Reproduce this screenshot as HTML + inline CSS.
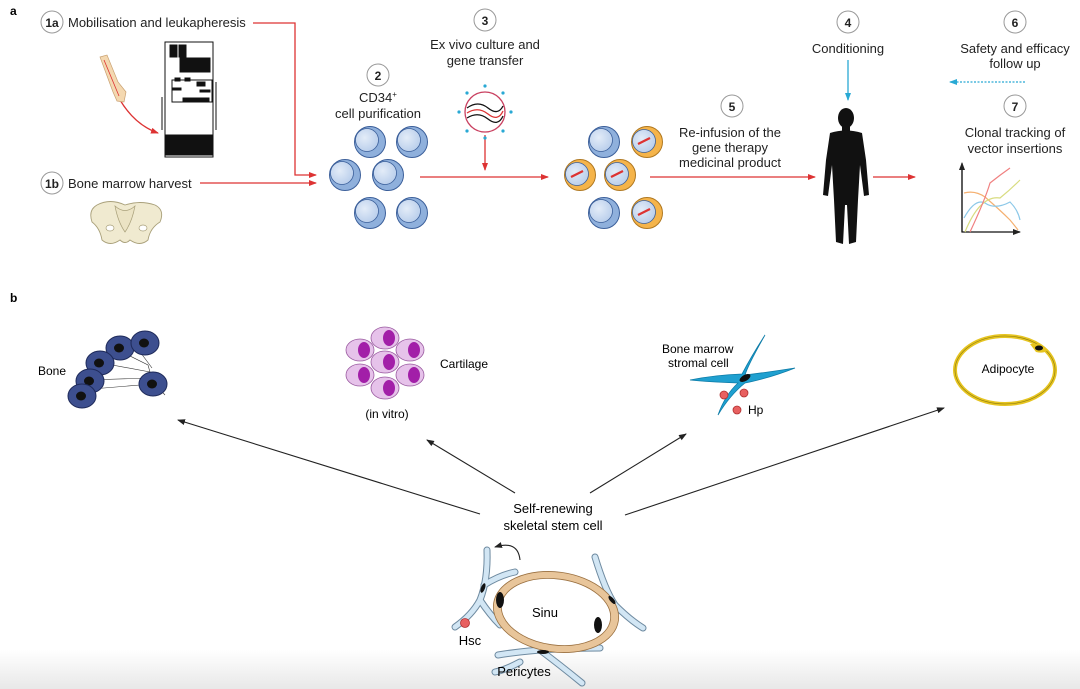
<!DOCTYPE html>
<html><head><meta charset="utf-8"><style>
html,body{margin:0;padding:0;background:#fff;}
svg{display:block;font-family:"Liberation Sans",Arial,sans-serif;}
</style></head><body>
<svg width="1080" height="689" viewBox="0 0 1080 689" xmlns="http://www.w3.org/2000/svg">
<defs>
<marker id="ar" markerWidth="8" markerHeight="8" refX="7" refY="4" orient="auto" markerUnits="userSpaceOnUse"><path d="M0,1 L8,4 L0,7 z" fill="#d33"/></marker>
<marker id="ab" markerWidth="8" markerHeight="8" refX="7" refY="4" orient="auto" markerUnits="userSpaceOnUse"><path d="M0,1 L8,4 L0,7 z" fill="#29a9d4"/></marker>
<marker id="ak" markerWidth="8" markerHeight="8" refX="7" refY="4" orient="auto" markerUnits="userSpaceOnUse"><path d="M0,1 L8,4 L0,7 z" fill="#222"/></marker>
<linearGradient id="bot" x1="0" y1="0" x2="0" y2="1"><stop offset="0" stop-color="#fff"/><stop offset="1" stop-color="#e8e8e8"/></linearGradient>
<radialGradient id="bc" cx="0.4" cy="0.4" r="0.7"><stop offset="0" stop-color="#e3ecf8"/><stop offset="1" stop-color="#b5cbea"/></radialGradient>
<g id="blue"><circle r="15.5" fill="#8fb0dc" stroke="#3b5f9a" stroke-width="1"/><circle cx="-3" cy="-2" r="11.5" fill="url(#bc)" stroke="#3b5f9a" stroke-width="0.8"/></g>
<g id="orng"><circle r="15.5" fill="#f5b44a" stroke="#b07820" stroke-width="1"/><circle cx="-3" cy="-1" r="11.5" fill="url(#bc)" stroke="#3b5f9a" stroke-width="0.8"/><line x1="-9" y1="2" x2="3" y2="-4" stroke="#d33" stroke-width="2.2"/></g>
<g id="pink"><ellipse rx="14" ry="11" fill="#e6c2ea" stroke="#9a5aa0" stroke-width="0.8"/><ellipse cx="4" cy="0" rx="6" ry="8" fill="#a21fa8"/></g>
<g id="bone"><ellipse rx="14" ry="12" fill="#3d4f8f" stroke="#1e2a5a"/><ellipse cx="-1" cy="0" rx="5" ry="4.5" fill="#111"/></g>
</defs>
<rect x="0" y="650" width="1080" height="39" fill="url(#bot)"/>

<text x="10" y="15" font-size="12" font-weight="bold">a</text>
<g font-size="13" fill="#222">
<circle cx="52" cy="22" r="11" fill="#fff" stroke="#999"/><text x="52" y="27" text-anchor="middle" font-weight="bold" font-size="12">1a</text>
<text x="68" y="27">Mobilisation and leukapheresis</text>
<circle cx="52" cy="183" r="11" fill="#fff" stroke="#999"/><text x="52" y="188" text-anchor="middle" font-weight="bold" font-size="12">1b</text>
<text x="68" y="188">Bone marrow harvest</text>
<circle cx="378" cy="75" r="11" fill="#fff" stroke="#999"/><text x="378" y="80" text-anchor="middle" font-weight="bold" font-size="12">2</text>
<text x="378" y="102" text-anchor="middle">CD34<tspan font-size="8" dy="-5">+</tspan></text>
<text x="378" y="118" text-anchor="middle">cell purification</text>
<circle cx="485" cy="20" r="11" fill="#fff" stroke="#999"/><text x="485" y="25" text-anchor="middle" font-weight="bold" font-size="12">3</text>
<text x="485" y="49" text-anchor="middle">Ex vivo culture and</text>
<text x="485" y="65" text-anchor="middle">gene transfer</text>
<circle cx="732" cy="106" r="11" fill="#fff" stroke="#999"/><text x="732" y="111" text-anchor="middle" font-weight="bold" font-size="12">5</text>
<text x="730" y="137" text-anchor="middle">Re-infusion of the</text>
<text x="730" y="152" text-anchor="middle">gene therapy</text>
<text x="730" y="167" text-anchor="middle">medicinal product</text>
<circle cx="848" cy="22" r="11" fill="#fff" stroke="#999"/><text x="848" y="27" text-anchor="middle" font-weight="bold" font-size="12">4</text>
<text x="848" y="53" text-anchor="middle">Conditioning</text>
<circle cx="1015" cy="22" r="11" fill="#fff" stroke="#999"/><text x="1015" y="27" text-anchor="middle" font-weight="bold" font-size="12">6</text>
<text x="1015" y="53" text-anchor="middle">Safety and efficacy</text>
<text x="1015" y="68" text-anchor="middle">follow up</text>
<circle cx="1015" cy="106" r="11" fill="#fff" stroke="#999"/><text x="1015" y="111" text-anchor="middle" font-weight="bold" font-size="12">7</text>
<text x="1015" y="137" text-anchor="middle">Clonal tracking of</text>
<text x="1015" y="153" text-anchor="middle">vector insertions</text>
</g>

<g stroke="#d33" stroke-width="1.3" fill="none">
<path d="M253,23 H295 V175 H316" marker-end="url(#ar)"/>
<path d="M200,183 H316" marker-end="url(#ar)"/>
<path d="M485,135 V170" marker-end="url(#ar)"/>
<path d="M420,177 H548" marker-end="url(#ar)"/>
<path d="M650,177 H815" marker-end="url(#ar)"/>
<path d="M873,177 H915" marker-end="url(#ar)"/>
<path d="M120,100 Q135,125 158,133" marker-end="url(#ar)"/>
</g>
<g stroke="#29a9d4" stroke-width="1.3" fill="none">
<path d="M848,60 V100" marker-end="url(#ab)"/>
<path d="M1025,82 H950" stroke-dasharray="2,1.5" marker-end="url(#ab)"/>
</g>

<path d="M100,57 L107,55 L118,82 L126,92 L124,102 L117,101 L113,92 Z" fill="#f4d8b0" stroke="#c9a070" stroke-width="0.7"/>
<line x1="104" y1="60" x2="119" y2="96" stroke="#d33" stroke-width="0.8"/>
<g stroke="#111" fill="#fff" stroke-width="1">
<rect x="165" y="42" width="48" height="115"/>
<rect x="170" y="45" width="7" height="12" fill="#111"/><rect x="179" y="45" width="7" height="12" fill="#111"/>
<rect x="180" y="58" width="30" height="14" fill="#111"/>
<rect x="172" y="80" width="40" height="22" fill="#fff"/>
<rect x="175" y="78" width="5" height="3" fill="#111"/><rect x="185" y="78" width="5" height="3" fill="#111"/><rect x="197" y="82" width="8" height="4" fill="#111"/>
<rect x="173" y="88" width="8" height="2" fill="#111"/><rect x="200" y="90" width="10" height="2" fill="#111"/>
<rect x="183" y="98" width="26" height="3" fill="#111"/>
<rect x="165" y="135" width="48" height="20" fill="#111"/>
<line x1="162" y1="97" x2="162" y2="130"/><line x1="216" y1="82" x2="216" y2="130"/>
</g>
<path d="M97,205 Q110,198 125,205 Q140,200 155,205 Q165,210 160,222 Q150,228 148,240 Q140,247 130,240 Q125,245 120,240 Q110,247 102,240 Q100,228 92,222 Q88,210 97,205 Z" fill="#f0ead0" stroke="#a9a07a" stroke-width="0.9"/>
<path d="M115,206 Q125,215 135,206 Q132,222 125,232 Q118,222 115,206 Z" fill="#ebe3c4" stroke="#a9a07a" stroke-width="0.7"/>
<ellipse cx="110" cy="228" rx="4" ry="3" fill="#fff" stroke="#a9a07a" stroke-width="0.7"/>
<ellipse cx="143" cy="228" rx="4" ry="3" fill="#fff" stroke="#a9a07a" stroke-width="0.7"/>

<use href="#blue" x="370" y="142"/><use href="#blue" x="412" y="142"/>
<use href="#blue" x="345" y="175"/><use href="#blue" x="388" y="175"/>
<use href="#blue" x="370" y="213"/><use href="#blue" x="412" y="213"/>
<use href="#blue" x="604" y="142"/><use href="#orng" x="647" y="142"/>
<use href="#orng" x="580" y="175"/><use href="#orng" x="620" y="175"/>
<use href="#blue" x="604" y="213"/><use href="#orng" x="647" y="213"/>

<circle cx="485" cy="112" r="20" fill="#fff" stroke="#c94060" stroke-width="1.3"/>
<path d="M467,108 Q478,100 488,108 T503,106" stroke="#111" stroke-width="1.3" fill="none"/>
<path d="M467,113 Q478,106 488,114 T503,111" stroke="#d33" stroke-width="1.3" fill="none"/>
<path d="M467,118 Q478,111 488,119 T503,116" stroke="#111" stroke-width="1.3" fill="none"/>
<g fill="#29a9d4"><circle cx="485" cy="86" r="1.6"/><circle cx="485" cy="138" r="1.6"/><circle cx="459" cy="112" r="1.6"/><circle cx="511" cy="112" r="1.6"/><circle cx="467" cy="93" r="1.6"/><circle cx="503" cy="93" r="1.6"/><circle cx="467" cy="131" r="1.6"/><circle cx="503" cy="131" r="1.6"/></g>

<g fill="#111">
<ellipse cx="846" cy="118" rx="8" ry="10"/>
<rect x="842" y="126" width="8" height="6"/>
<path d="M830,133 Q846,128 862,133 L866,160 L869,195 L864,196 L860,165 L858,200 L856,242 L849,244 L847,205 L845,205 L843,244 L836,242 L834,200 L832,165 L828,196 L823,195 L826,160 Z"/>
</g>

<g fill="none" stroke-width="1.2">
<path d="M962,166 V232 H1020" stroke="#111" marker-end="url(#ak)"/>
<line x1="962" y1="232" x2="962" y2="163" stroke="#111" marker-end="url(#ak)"/>
<path d="M964,193 Q975,190 985,197 Q1000,210 1010,220 Q1015,226 1018,230" stroke="#f5b070"/>
<path d="M964,218 Q975,198 985,203 Q995,210 1010,202 Q1018,210 1020,220" stroke="#8cc8e8"/>
<path d="M965,232 Q980,195 1000,198 Q1010,190 1020,180" stroke="#d8dc80"/>
<path d="M970,232 Q985,200 990,183 Q1000,175 1010,168" stroke="#f08080"/>
</g>

<text x="10" y="302" font-size="12" font-weight="bold">b</text>
<g stroke="#333" stroke-width="0.6" fill="none">
<path d="M96,362 L150,372 L160,392"/><path d="M88,380 L150,378 L165,395"/><path d="M118,350 L148,365 L155,390"/>
<path d="M135,345 L152,368"/><path d="M80,390 L140,385"/>
</g>
<use href="#bone" x="120" y="348"/><use href="#bone" x="145" y="343"/><use href="#bone" x="100" y="363"/>
<use href="#bone" x="90" y="381"/><use href="#bone" x="153" y="384"/><use href="#bone" x="82" y="396"/>
<text x="38" y="375" font-size="12">Bone</text>

<use href="#pink" x="385" y="338"/><use href="#pink" x="360" y="350"/><use href="#pink" x="410" y="350"/>
<use href="#pink" x="385" y="362"/><use href="#pink" x="360" y="375"/><use href="#pink" x="410" y="375"/>
<use href="#pink" x="385" y="388"/>
<text x="440" y="368" font-size="12">Cartilage</text>
<text x="387" y="418" font-size="12" text-anchor="middle">(in vitro)</text>

<text x="662" y="353" font-size="12">Bone marrow</text>
<text x="668" y="367" font-size="12">stromal cell</text>
<path d="M765,335 Q748,365 745,375 Q770,372 795,368 Q770,378 745,383 Q730,395 718,415 Q725,395 738,383 Q710,382 690,380 Q715,375 742,374 Q752,355 765,335 Z" fill="#1fa0d0" stroke="#0d7ca8" stroke-width="0.8"/>
<ellipse cx="745" cy="378" rx="6" ry="3" fill="#111" transform="rotate(-30 745 378)"/>
<g fill="#e86060" stroke="#b03030" stroke-width="0.8"><circle cx="724" cy="395" r="4"/><circle cx="744" cy="393" r="4"/><circle cx="737" cy="410" r="4"/></g>
<text x="748" y="414" font-size="12">Hp</text>

<ellipse cx="1005" cy="370" rx="50" ry="34" fill="#fff" stroke="#e6c420" stroke-width="4"/>
<ellipse cx="1005" cy="370" rx="50" ry="34" fill="none" stroke="#8a7a10" stroke-width="0.6"/>
<path d="M1030,344 Q1040,342 1048,350 Q1044,354 1036,352 Z" fill="#e6c420"/>
<ellipse cx="1039" cy="348" rx="4" ry="2.5" fill="#111"/>
<text x="1008" y="373" font-size="12" text-anchor="middle">Adipocyte</text>

<g stroke="#222" stroke-width="1.1" fill="none">
<line x1="480" y1="514" x2="178" y2="420" marker-end="url(#ak)"/>
<line x1="515" y1="493" x2="427" y2="440" marker-end="url(#ak)"/>
<line x1="590" y1="493" x2="686" y2="434" marker-end="url(#ak)"/>
<line x1="625" y1="515" x2="944" y2="408" marker-end="url(#ak)"/>
<path d="M520,560 Q518,540 495,547" marker-end="url(#ak)"/>
</g>
<text x="553" y="513" font-size="13" text-anchor="middle">Self-renewing</text>
<text x="553" y="530" font-size="13" text-anchor="middle">skeletal stem cell</text>

<!-- pericytes: outlined strokes -->
<g fill="none" stroke-linecap="round" stroke-linejoin="round">
<g stroke="#6e8aa0" stroke-width="7">
<path d="M487,550 Q488,580 480,600 Q472,615 455,627"/>
<path d="M480,600 Q490,615 500,625"/>
<path d="M484,585 Q500,575 515,572"/>
<path d="M595,557 Q605,590 615,605 Q630,620 643,628"/>
<path d="M615,605 Q595,595 565,590"/>
<path d="M498,655 Q540,648 600,648"/>
<path d="M540,650 Q560,665 582,683"/>
<path d="M520,662 Q505,670 495,672"/>
</g>
<g stroke="#d2e6f4" stroke-width="5">
<path d="M487,550 Q488,580 480,600 Q472,615 455,627"/>
<path d="M480,600 Q490,615 500,625"/>
<path d="M484,585 Q500,575 515,572"/>
<path d="M595,557 Q605,590 615,605 Q630,620 643,628"/>
<path d="M615,605 Q595,595 565,590"/>
<path d="M498,655 Q540,648 600,648"/>
<path d="M540,650 Q560,665 582,683"/>
<path d="M520,662 Q505,670 495,672"/>
</g>
</g>
<ellipse cx="556" cy="612" rx="63" ry="40" fill="#e8c59a" stroke="#9a7040" stroke-width="0.8" transform="rotate(8 556 612)"/>
<ellipse cx="556" cy="612" rx="55" ry="33" fill="#fff" stroke="#9a7040" stroke-width="0.8" transform="rotate(8 556 612)"/>
<ellipse cx="500" cy="600" rx="4" ry="8" fill="#111"/>
<ellipse cx="598" cy="625" rx="4" ry="8" fill="#111"/>
<ellipse cx="483" cy="588" rx="2" ry="5" fill="#111" transform="rotate(20 483 588)"/>
<ellipse cx="612" cy="600" rx="2" ry="5" fill="#111" transform="rotate(-40 612 600)"/>
<ellipse cx="543" cy="652" rx="6" ry="2" fill="#111"/>
<circle cx="465" cy="623" r="4.5" fill="#e86060" stroke="#b03030" stroke-width="0.8"/>
<text x="545" y="617" font-size="13" text-anchor="middle">Sinu</text>
<text x="470" y="645" font-size="13" text-anchor="middle">Hsc</text>
<text x="524" y="676" font-size="13" text-anchor="middle">Pericytes</text>
</svg>
</body></html>
